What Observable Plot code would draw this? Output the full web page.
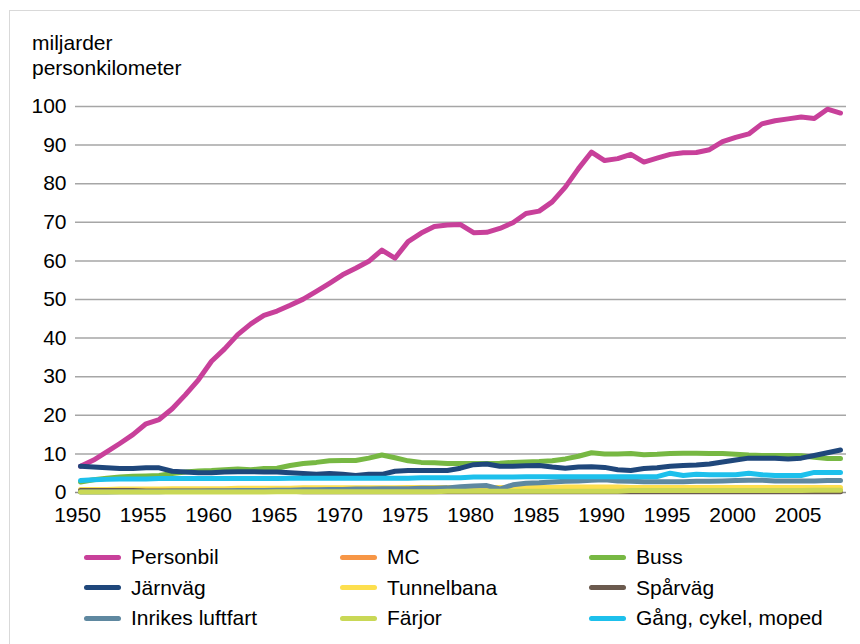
<!DOCTYPE html>
<html>
<head>
<meta charset="utf-8">
<script src="https://cdn.jsdelivr.net/npm/d3@7"></script>
<script src="https://cdn.jsdelivr.net/npm/@observablehq/plot@0.6"></script>
<style>
  body { margin: 0; background: #fff; font-family: "Liberation Sans", Arial, sans-serif; }
  #wrap { position: relative; width: 860px; height: 644px; overflow: hidden; background: #fff; }
  #frame { position: absolute; left: 9px; top: 10px; width: 900px; height: 700px; border: 1px solid #d9d9d9; }
  #chart { position: absolute; left: 0; top: 0; }
  #ylabel { position: absolute; left: 32px; top: 30px; font-size: 21px; line-height: 25px; color: #000; }
  #legend { position: absolute; left: 84px; top: 542px; display: grid;
            grid-template-columns: 256px 249px auto; grid-auto-rows: 30.5px; font-size: 21px; color: #000; }
  .item { display: flex; align-items: center; white-space: nowrap; }
  .sw { width: 37px; height: 5px; border-radius: 3px; margin-right: 10px; }
</style>
</head>
<body>
<div id="wrap">
  <div id="frame"></div>
  <div id="chart"></div>
  <div id="ylabel">miljarder<br>personkilometer</div>
  <div id="legend"></div>
</div>
<script>
const years = d3.range(1950, 2009);
const xTicks = [1950, 1955, 1960, 1965, 1970, 1975, 1980, 1985, 1990, 1995, 2000, 2005];
const yTicks = [0, 10, 20, 30, 40, 50, 60, 70, 80, 90, 100];

const seriesNames = ["Personbil", "MC", "Buss", "Järnväg", "Tunnelbana", "Spårväg", "Inrikes luftfart", "Färjor", "Gång, cykel, moped"];
const seriesColors = ["#C8409A", "#F79646", "#77B843", "#1F477B", "#FDDF4E", "#6B5A4E", "#5F88A0", "#C9D856", "#1DC0EC"];

const personbil = [6.8, 8.4, 10.5, 12.7, 15.0, 17.8, 18.9, 21.7, 25.3, 29.2,
  34.0, 37.2, 40.9, 43.7, 45.9, 47.0, 48.5, 50.1, 52.1, 54.2,
  56.4, 58.1, 59.9, 62.8, 60.7, 65.0, 67.2, 68.9, 69.3, 69.4,
  67.3, 67.4, 68.4, 69.9, 72.3, 72.9, 75.3, 79.1, 83.9, 88.2,
  86.0, 86.5, 87.6, 85.6, 86.6, 87.6, 88.0, 88.1, 88.8, 90.9,
  92.0, 92.9, 95.5, 96.3, 96.8, 97.3, 96.9, 99.3, 98.3];
const mc = [0.4, 0.4, 0.4, 0.4, 0.4, 0.4, 0.4, 0.4, 0.4, 0.4,
  0.4, 0.4, 0.4, 0.4, 0.4, 0.4, 0.4, 0.4, 0.4, 0.4,
  0.4, 0.4, 0.4, 0.4, 0.4, 0.4, 0.4, 0.4, 0.4, 0.4,
  0.4, 0.4, 0.4, 0.4, 0.4, 0.4, 0.4, 0.4, 0.4, 0.4,
  0.4, 0.4, 0.4, 0.5, 0.5, 0.5, 0.5, 0.5, 0.5, 0.5,
  0.6, 0.6, 0.6, 0.6, 0.6, 0.6, 0.6, 0.6, 0.6];
const buss = [2.7, 3.3, 3.7, 4.0, 4.2, 4.3, 4.4, 4.9, 5.3, 5.6,
  5.7, 5.9, 6.1, 5.9, 6.2, 6.3, 7.0, 7.5, 7.8, 8.2,
  8.3, 8.3, 8.9, 9.7, 9.0, 8.2, 7.8, 7.7, 7.5, 7.5,
  7.5, 7.5, 7.6, 7.8, 7.9, 8.0, 8.2, 8.7, 9.4, 10.3,
  10.0, 10.0, 10.1, 9.8, 9.9, 10.1, 10.2, 10.2, 10.1, 10.1,
  9.9, 9.7, 9.6, 9.6, 9.6, 9.5, 9.1, 8.8, 8.8];
const jarnvag = [6.8, 6.6, 6.4, 6.2, 6.2, 6.4, 6.4, 5.5, 5.3, 5.1,
  5.1, 5.3, 5.4, 5.4, 5.3, 5.3, 5.1, 4.9, 4.7, 4.9,
  4.7, 4.4, 4.7, 4.7, 5.5, 5.7, 5.7, 5.7, 5.7, 6.3,
  7.2, 7.4, 6.8, 6.8, 6.9, 7.0, 6.6, 6.3, 6.6, 6.7,
  6.5, 5.9, 5.7, 6.2, 6.4, 6.8, 7.0, 7.1, 7.4, 7.9,
  8.4, 8.9, 8.9, 8.9, 8.7, 8.9, 9.6, 10.3, 11.0];
const tunnelbana = [0.8, 0.8, 0.8, 0.9, 0.9, 0.9, 0.9, 1.0, 1.0, 1.0,
  1.0, 1.0, 1.1, 1.1, 1.1, 1.1, 1.1, 1.2, 1.2, 1.2,
  1.2, 1.2, 1.2, 1.2, 1.2, 1.3, 1.3, 1.3, 1.3, 1.3,
  1.3, 1.3, 1.3, 1.3, 1.3, 1.3, 1.3, 1.4, 1.4, 1.4,
  1.4, 1.4, 1.3, 1.3, 1.3, 1.3, 1.3, 1.3, 1.3, 1.3,
  1.3, 1.3, 1.3, 1.3, 1.3, 1.3, 1.3, 1.3, 1.3];
const sparvag = [0.5, 0.5, 0.5, 0.5, 0.5, 0.4, 0.4, 0.4, 0.4, 0.4,
  0.4, 0.4, 0.3, 0.3, 0.3, 0.3, 0.3, 0.2, 0.2, 0.2,
  0.2, 0.2, 0.2, 0.2, 0.2, 0.2, 0.2, 0.2, 0.2, 0.2,
  0.2, 0.2, 0.2, 0.2, 0.2, 0.2, 0.2, 0.2, 0.2, 0.2,
  0.2, 0.2, 0.2, 0.2, 0.2, 0.2, 0.2, 0.2, 0.2, 0.2,
  0.2, 0.2, 0.2, 0.2, 0.2, 0.2, 0.2, 0.2, 0.2];
const luftfart = [0.1, 0.1, 0.1, 0.2, 0.2, 0.2, 0.2, 0.3, 0.3, 0.3,
  0.4, 0.4, 0.5, 0.5, 0.5, 0.6, 0.6, 0.7, 0.7, 0.8,
  0.8, 0.9, 0.9, 1.0, 1.0, 1.0, 1.1, 1.1, 1.2, 1.5,
  1.7, 1.8, 0.9, 2.0, 2.4, 2.5, 2.7, 2.9, 3.0, 3.2,
  3.3, 3.0, 2.9, 2.8, 2.8, 2.8, 2.8, 2.9, 2.9, 3.0,
  3.1, 3.2, 3.2, 3.0, 3.0, 3.0, 3.0, 3.1, 3.1];
const farjor = [0.1, 0.1, 0.1, 0.1, 0.1, 0.1, 0.1, 0.1, 0.1, 0.1,
  0.1, 0.1, 0.1, 0.1, 0.1, 0.2, 0.2, 0.2, 0.2, 0.2,
  0.2, 0.2, 0.2, 0.2, 0.2, 0.2, 0.2, 0.2, 0.3, 0.3,
  0.3, 0.3, 0.3, 0.3, 0.3, 0.3, 0.3, 0.3, 0.3, 0.3,
  0.3, 0.3, 0.5, 0.5, 0.5, 0.5, 0.5, 0.5, 0.5, 0.5,
  0.5, 0.5, 0.5, 0.5, 0.5, 0.5, 0.6, 0.6, 0.6];
const gang = [3.1, 3.3, 3.4, 3.5, 3.5, 3.5, 3.6, 3.6, 3.6, 3.6,
  3.6, 3.6, 3.6, 3.6, 3.6, 3.6, 3.7, 3.7, 3.7, 3.7,
  3.7, 3.7, 3.7, 3.7, 3.7, 3.7, 3.8, 3.8, 3.8, 3.8,
  4.0, 4.0, 4.0, 4.0, 4.1, 4.1, 4.1, 4.1, 4.1, 4.1,
  4.1, 4.1, 4.1, 4.1, 4.1, 5.0, 4.4, 4.7, 4.6, 4.6,
  4.6, 5.0, 4.6, 4.4, 4.4, 4.4, 5.2, 5.2, 5.2];

const seriesValues = [personbil, mc, buss, jarnvag, tunnelbana, sparvag, luftfart, farjor, gang];

const lineMarks = seriesNames.map((name, i) =>
  Plot.line(years.map((yr, j) => ({year: yr, value: seriesValues[i][j], series: name})), {
    x: "year", y: "value", stroke: "series",
    strokeWidth: 5, strokeLinejoin: "round", strokeLinecap: "round"
  })
);

const chart = Plot.plot({
  width: 860,
  height: 530,
  marginLeft: 75,
  marginRight: 14,
  marginTop: 106,
  marginBottom: 38,
  style: { fontSize: "21px", fontFamily: "'Liberation Sans', Arial, sans-serif", color: "#000", background: "transparent" },
  x: { domain: [1950, 2008], insetLeft: 5, insetRight: 6, label: null },
  y: { domain: [0, 100], label: null },
  color: { domain: seriesNames, range: seriesColors },
  marks: [
    Plot.ruleY(yTicks.filter(d => d > 0), { stroke: "#A6A6A6", strokeWidth: 1.5 }),
    Plot.ruleY([0], { stroke: "#8C8C8C", strokeWidth: 1.5 }),
    Plot.axisY({ ticks: yTicks, tickSize: 0, tickPadding: 9, label: null }),
    Plot.axisX({ ticks: xTicks, tickSize: 0, tickPadding: 15, dx: -3, label: null, tickFormat: d => String(d) }),
    ...lineMarks
  ]
});
document.getElementById("chart").appendChild(chart);

const legend = document.getElementById("legend");
seriesNames.forEach((name, i) => {
  const item = document.createElement("div");
  item.className = "item";
  const sw = document.createElement("span");
  sw.className = "sw";
  sw.style.background = seriesColors[i];
  const tx = document.createElement("span");
  tx.textContent = name;
  item.appendChild(sw);
  item.appendChild(tx);
  legend.appendChild(item);
});
</script>
</body>
</html>
